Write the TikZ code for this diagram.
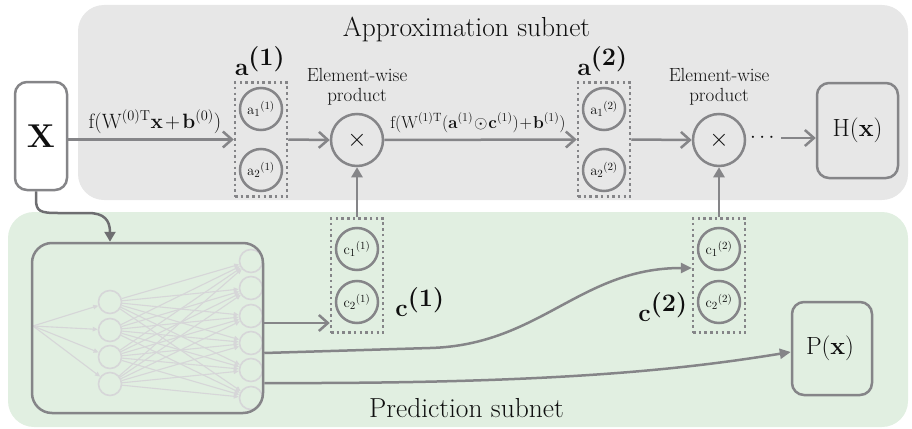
\documentclass[tikz,border=0pt]{standalone}
\usepackage{amsmath}
\usetikzlibrary{arrows.meta,calc}
\definecolor{linegray}{RGB}{133,133,136}
\definecolor{darkline}{RGB}{110,110,113}
\definecolor{panelgray}{RGB}{231,231,231}
\definecolor{panelgreen}{RGB}{225,239,225}
\definecolor{netgray}{RGB}{214,214,216}
\definecolor{txt}{RGB}{15,15,15}

\begin{document}
\begin{tikzpicture}[x=1pt,y=-1pt,
  every node/.style={text=txt},
  conn/.style={draw=linegray, line width=2.5pt},
  chev/.style={conn, -{Straight Barb[length=9pt,width=16pt]}},
  tri/.style={conn, -{Triangle[length=10pt,width=11pt]}},
  curvearrow/.style={conn, -{Triangle[length=11pt,width=10pt]}},
  boxnode/.style={draw=linegray, line width=2.5pt, rounded corners=12pt, inner sep=0pt},
  unit/.style={circle, draw=linegray, line width=2.5pt, minimum size=42pt, inner sep=0pt, font=\fontsize{15}{17}\selectfont},
  group/.style={draw=linegray, line width=2.5pt, dash pattern=on 2.5pt off 3.2pt, minimum width=52pt, minimum height=114pt, inner sep=0pt},
  mult/.style={circle, draw=linegray, line width=2.5pt, minimum size=52pt, inner sep=0pt, font=\fontsize{24}{26}\selectfont},
  title/.style={font=\fontsize{27.5}{32}\selectfont, anchor=base},
  vlabel/.style={font=\fontsize{36}{40}\selectfont, anchor=base, inner sep=0pt},
  note/.style={font=\fontsize{19}{20}\selectfont, align=center, anchor=south, inner sep=2pt},
  formula/.style={anchor=base, inner sep=0pt},
  neuron/.style={circle, draw=netgray, line width=1.6pt, minimum size=23pt, inner sep=0pt},
  netedge/.style={draw=netgray, line width=1.1pt, -{Triangle[length=5pt,width=4.5pt]}},
]
\useasboundingbox (0,0) rectangle (912,428);

% subnet panels
\fill[panelgray, rounded corners=26pt] (78,5) rectangle (908,200);
\fill[panelgreen, rounded corners=26pt] (8,212) rectangle (908,427);
\node[title] (ttop) at (466.5,37) {Approximation subnet};
\node[title] (tbot) at (466.5,417) {Prediction subnet};

% input, outputs
\node[boxnode, fill=white, minimum width=52pt, minimum height=108pt, font=\fontsize{33}{36}\selectfont\bfseries] (X) at (41,136) {\raisebox{-4pt}{X}};
\node[boxnode, minimum width=81pt, minimum height=95pt, font=\fontsize{31}{34}\selectfont] (H) at (857.5,130.5) {\raisebox{-7.5pt}{$\mathrm{H}(\mathbf{x})$}};
\node[boxnode, minimum width=80pt, minimum height=93pt, font=\fontsize{29}{32}\selectfont] (P) at (832,348.5) {\hspace*{-4pt}\raisebox{-6.5pt}{$\mathrm{P}(\mathbf{x})$}};

% prediction network
\coordinate (nnin) at (33,326);
\foreach \i/\y in {1/302,2/330,3/357,4/384}
  \node[neuron] (h\i) at (110,\y) {};
\foreach \j/\y in {1/261,2/288,3/316,4/343,5/370,6/398}
  \node[neuron] (o\j) at (251,\y) {};
\foreach \i in {1,...,4}
  \draw[netedge] (nnin) -- (h\i);
\foreach \i in {1,...,4}
  \foreach \j in {1,...,6}
    \draw[netedge] (h\i) -- (o\j);
\node[boxnode, rounded corners=20pt, minimum width=231pt, minimum height=170pt] (NN) at (147.5,328) {};

% gating groups a and c
\node[group] (a1box) at (261,139.5) {};
\node[unit] (a11) at (261,109) {$\mathrm{a}_1{}^{(1)}$};
\node[unit] (a12) at (261,170) {$\mathrm{a}_2{}^{(1)}$};
\node[group] (a2box) at (604,139.5) {};
\node[unit] (a21) at (604,109) {$\mathrm{a}_1{}^{(2)}$};
\node[unit] (a22) at (604,170) {$\mathrm{a}_2{}^{(2)}$};
\node[group] (c1box) at (357,275.5) {};
\node[unit] (c11) at (357,249) {$\mathrm{c}_1{}^{(1)}$};
\node[unit] (c12) at (357,302) {$\mathrm{c}_2{}^{(1)}$};
\node[group] (c2box) at (719,275.5) {};
\node[unit] (c21) at (719,249) {$\mathrm{c}_1{}^{(2)}$};
\node[unit] (c22) at (719,302) {$\mathrm{c}_2{}^{(2)}$};

\node[vlabel] (la1) at (260,75) {$\mathbf{a}^{\textbf{(1)}}$};
\node[vlabel] (la2) at (602.5,75) {$\mathbf{a}^{\textbf{(2)}}$};
\node[vlabel] (lc1) at (420,316) {$\mathbf{c}^{\textbf{(1)}}$};
\node[vlabel] (lc2) at (663,321) {$\mathbf{c}^{\textbf{(2)}}$};

% element-wise products
\node[mult] (m1) at (357,140) {$\times$};
\node[mult] (m2) at (719,140) {$\times$};
\node[note] (e1) at ([yshift=5pt]m1.north) {Element-wise\\product};
\node[note] (e2) at ([yshift=5pt]m2.north) {Element-wise\\product};
\node[font=\fontsize{22}{24}\selectfont, inner sep=3pt] (dots) at (764,138) {$\cdots$};

% layer formulas
\node[formula, font=\fontsize{20.5}{24}\selectfont] (f1) at (155,128)
  {$\medmuskip=2mu \mathrm{f}(\mathrm{W}^{(0)\mathrm{T}}\mathbf{x}+\mathbf{b}^{(0)})$};
\node[formula, font=\fontsize{17.2}{20}\selectfont] (f2) at (478,128)
  {$\medmuskip=1mu \mathrm{f}(\mathrm{W}^{(1)\mathrm{T}}(\mathbf{a}^{(1)}\odot\mathbf{c}^{(1)})+\mathbf{b}^{(1)})$};

% approximation path
\draw[chev] (a1box.west -| X.east) -- (a1box.west);
\draw[chev] (a1box.east) -- (m1.west);
\draw[chev] (m1.east) -- (a2box.west);
\draw[chev] (a2box.east) -- (m2.west);
\draw[chev] (dots.east) -- (dots.east -| H.west);

% gates into products
\draw[tri] (c1box.north) -- (m1.south);
\draw[tri] (c2box.north) -- (m2.south);

% input to prediction network
\draw[draw=darkline, line width=2.5pt, -{Triangle[length=10pt,width=11pt]}]
  ([xshift=-5pt]X.south) -- ++(0,8) .. controls +(0,12) and (40,213) .. (58,213)
  -- (88,213) .. controls (104,213) and (110,220) .. ([xshift=-37.5pt]NN.north);

% prediction network outputs
\coordinate (nnA) at ($(NN.east)+(0,-5)$);
\coordinate (nnB) at ($(NN.east)+(0,25)$);
\coordinate (nnC) at ($(NN.east)+(0,55)$);
\draw[chev] (nnA) -- (nnA -| c1box.west);
\draw[curvearrow] (nnB) -- (430,348)
  .. controls (540,345) and (580,268) .. ($(c2box.west)+(0,-7.5)$);
\draw[curvearrow] (nnC)
  .. controls (550,384) and (680,370) .. ($(P.west)+(0,3.5)$);
\end{tikzpicture}
\end{document}
